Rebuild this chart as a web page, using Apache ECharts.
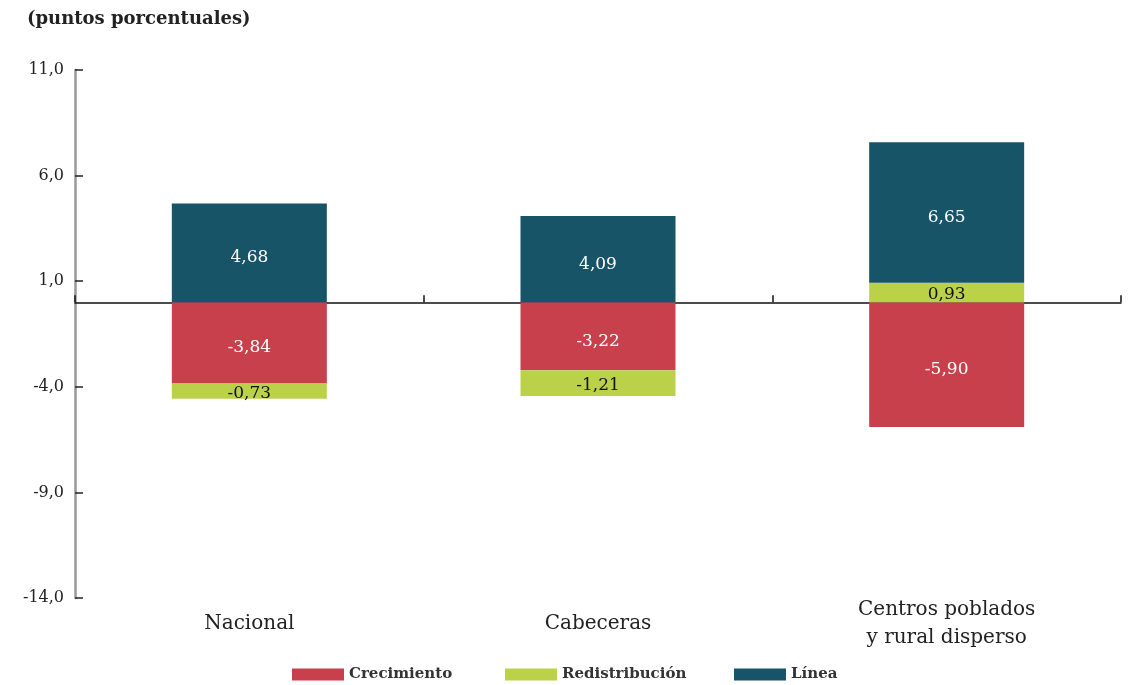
<!DOCTYPE html>
<html><head><meta charset="utf-8">
<script src="https://cdn.jsdelivr.net/npm/echarts@6/dist/echarts.min.js"></script>
<style>html,body{margin:0;padding:0;background:#fff}#c{width:1132px;height:685px}</style>
</head><body><div id="c"></div>
<script>
const categories = ['Nacional', 'Cabeceras', 'Centros poblados\ny rural disperso'];
const crecimiento = [-3.84, -3.22, -5.90];
const redistribucion = [-0.73, -1.21, 0.93];
const linea = [4.68, 4.09, 6.65];
const yTicks = [-14, -9, -4, 1, 6, 11];
const seriesNames = ['Crecimiento', 'Redistribución', 'Línea'];

const FONT = '"DejaVu Serif", "Liberation Serif", serif';
const fmt = v => Number(v).toFixed(2).replace('.', ',');
const chart = echarts.init(document.getElementById('c'), null, {renderer: 'canvas'});
function bar(name, data, color, labelColor, dy) {
  return {
    name, type: 'bar', stack: 'a', data, barWidth: 155, xAxisIndex: 0,
    itemStyle: {color},
    label: {show: true, position: 'inside', offset: [0, dy], color: labelColor, fontFamily: FONT, fontSize: 17,
      formatter: p => fmt(p.value)},
    emphasis: {disabled: true}
  };
}
const legendLefts = [287, 500, 729];
chart.setOption({
  animation: false,
  title: {text: '(puntos porcentuales)', left: 22, top: 5,
    textStyle: {fontFamily: FONT, fontSize: 18, fontWeight: 'bold', color: '#222'}},
  legend: seriesNames.map((n, i) => ({
    data: [n], left: legendLefts[i], top: 662, itemWidth: 52, itemHeight: 12,
    icon: 'rect', selectedMode: false,
    textStyle: {fontFamily: FONT, fontSize: 15, fontWeight: 'bold', color: '#333'}
  })),
  grid: {left: 75, right: 11, top: 70, bottom: 87},
  xAxis: [{
    type: 'category', data: categories,
    axisLine: {onZero: true, lineStyle: {color: '#111', width: 1.5}},
    axisTick: {show: true, inside: true, length: 7, lineStyle: {color: '#111', width: 1.5}},
    axisLabel: {show: false}
  }, {
    type: 'category', data: categories, position: 'bottom',
    axisLine: {show: false, onZero: false}, axisTick: {show: false},
    axisLabel: {margin: 26, fontFamily: FONT, fontSize: 20, color: '#222', lineHeight: 28,
      verticalAlign: 'middle'}
  }],
  yAxis: {
    type: 'value', min: -14, max: 11,
    splitLine: {show: false},
    axisLine: {show: true, lineStyle: {color: '#999', width: 2.5}},
    axisTick: {show: true, inside: true, length: 8, customValues: yTicks, lineStyle: {color: '#222', width: 1.5}},
    axisLabel: {customValues: yTicks, margin: 11, fontFamily: FONT, fontSize: 16, color: '#222',
      formatter: v => Number(v).toFixed(1).replace('.', ',')}
  },
  series: [
    bar('Crecimiento', crecimiento, '#C8404C', '#fff', 5),
    bar('Redistribución', redistribucion, '#BCD14A', '#111', 2),
    bar('Línea', linea, '#175468', '#fff', 5)
  ]
});
</script></body></html>
